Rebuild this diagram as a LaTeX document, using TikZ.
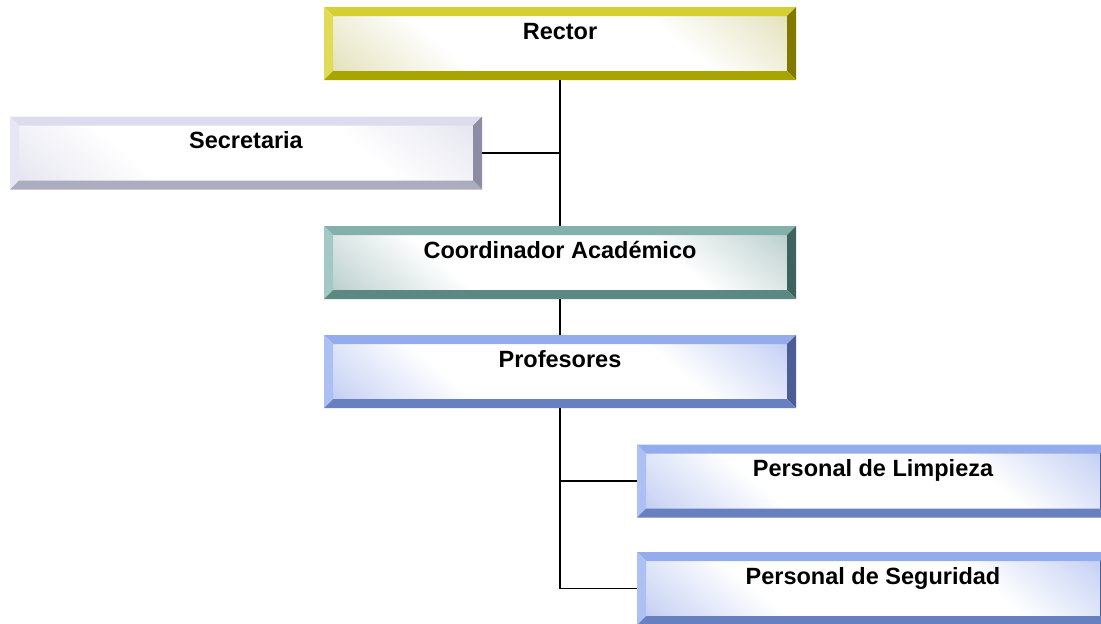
\documentclass[tikz,border=0pt]{standalone}
\usepackage{fontspec}
\setmainfont{Liberation Sans}
\usetikzlibrary{calc}
\definecolor{rT}{HTML}{D4D034}\definecolor{rL}{HTML}{E0DC58}\definecolor{rR}{HTML}{807800}\definecolor{rB}{HTML}{A8A400}\definecolor{rI}{HTML}{C8C478}
\definecolor{sT}{HTML}{DCDCEE}\definecolor{sL}{HTML}{E6E6F4}\definecolor{sR}{HTML}{8C8CA4}\definecolor{sB}{HTML}{ACACC0}\definecolor{sI}{HTML}{CCCCE2}
\definecolor{cT}{HTML}{84B0AC}\definecolor{cL}{HTML}{A4C8C4}\definecolor{cR}{HTML}{3E625E}\definecolor{cB}{HTML}{5C8884}\definecolor{cI}{HTML}{76A09C}
\definecolor{pT}{HTML}{94ACEC}\definecolor{pL}{HTML}{ACC0F4}\definecolor{pR}{HTML}{4C5C94}\definecolor{pB}{HTML}{6880C0}\definecolor{pI}{HTML}{88A0E8}
\colorlet{rH}{rI!40!white}\colorlet{sH}{sI!40!white}\colorlet{cH}{cI!40!white}\colorlet{pH}{pI!40!white}
\pgfdeclareverticalshading{shR}{100bp}{color(0bp)=(rI); color(18bp)=(rH); color(34bp)=(white); color(66bp)=(white); color(82bp)=(rH); color(100bp)=(rI)}
\pgfdeclareverticalshading{shS}{100bp}{color(0bp)=(sI); color(18bp)=(sH); color(34bp)=(white); color(66bp)=(white); color(82bp)=(sH); color(100bp)=(sI)}
\pgfdeclareverticalshading{shC}{100bp}{color(0bp)=(cI); color(18bp)=(cH); color(34bp)=(white); color(66bp)=(white); color(82bp)=(cH); color(100bp)=(cI)}
\pgfdeclareverticalshading{shP}{100bp}{color(0bp)=(pI); color(18bp)=(pH); color(34bp)=(white); color(66bp)=(white); color(82bp)=(pH); color(100bp)=(pI)}
\tikzset{
  bev/.style n args={5}{draw=none, minimum width=472pt, minimum height=73pt, inner sep=0pt,
    text height=32.4pt, text depth=40.6pt, font=\bfseries\fontsize{23.5}{28}\selectfont,
    path picture={
      \coordinate (NW) at (path picture bounding box.north west);
      \coordinate (NE) at (path picture bounding box.north east);
      \coordinate (SW) at (path picture bounding box.south west);
      \coordinate (SE) at (path picture bounding box.south east);
      \shade[shading=#5, shading angle=-40]
        ($(NW)+(9pt,-9pt)$) rectangle ($(SE)+(-9pt,9pt)$);
      \fill[#1] (NW) -- (NE) -- ($(NE)+(-9pt,-9pt)$) -- ($(NW)+(9pt,-9pt)$) -- cycle;
      \fill[#2] (NW) -- ($(NW)+(9pt,-9pt)$) -- ($(SW)+(9pt,9pt)$) -- (SW) -- cycle;
      \fill[#3] (NE) -- (SE) -- ($(SE)+(-9pt,9pt)$) -- ($(NE)+(-9pt,-9pt)$) -- cycle;
      \fill[#4] (SW) -- (SE) -- ($(SE)+(-9pt,9pt)$) -- ($(SW)+(9pt,9pt)$) -- cycle;
    }},
  conn/.style={draw=black, line width=1.5pt}
}
\begin{document}
\begin{tikzpicture}[x=1pt,y=-1pt]
\useasboundingbox (0,0) rectangle (1101,624);
\node[bev={rT}{rL}{rR}{rB}{shR}] (rector) at (560,43.5) {Rector};
\node[bev={sT}{sL}{sR}{sB}{shS}] (sec) at (246,153) {Secretaria};
\node[bev={cT}{cL}{cR}{cB}{shC}] (coord) at (560,262.5) {Coordinador Académico};
\node[bev={pT}{pL}{pR}{pB}{shP}] (prof) at (560,371.5) {Profesores};
\node[bev={pT}{pL}{pR}{pB}{shP}] (limp) at (873,481) {Personal de Limpieza};
\node[bev={pT}{pL}{pR}{pB}{shP}] (seg) at (873,588.5) {Personal de Seguridad};
\draw[conn] (rector.south) -- (coord.north);
\draw[conn] (sec.east) -- (sec.east -| rector.south);
\draw[conn] (coord.south) -- (prof.north);
\draw[conn] (prof.south) |- (limp.west);
\draw[conn] (prof.south) |- (seg.west);
\end{tikzpicture}
\end{document}
